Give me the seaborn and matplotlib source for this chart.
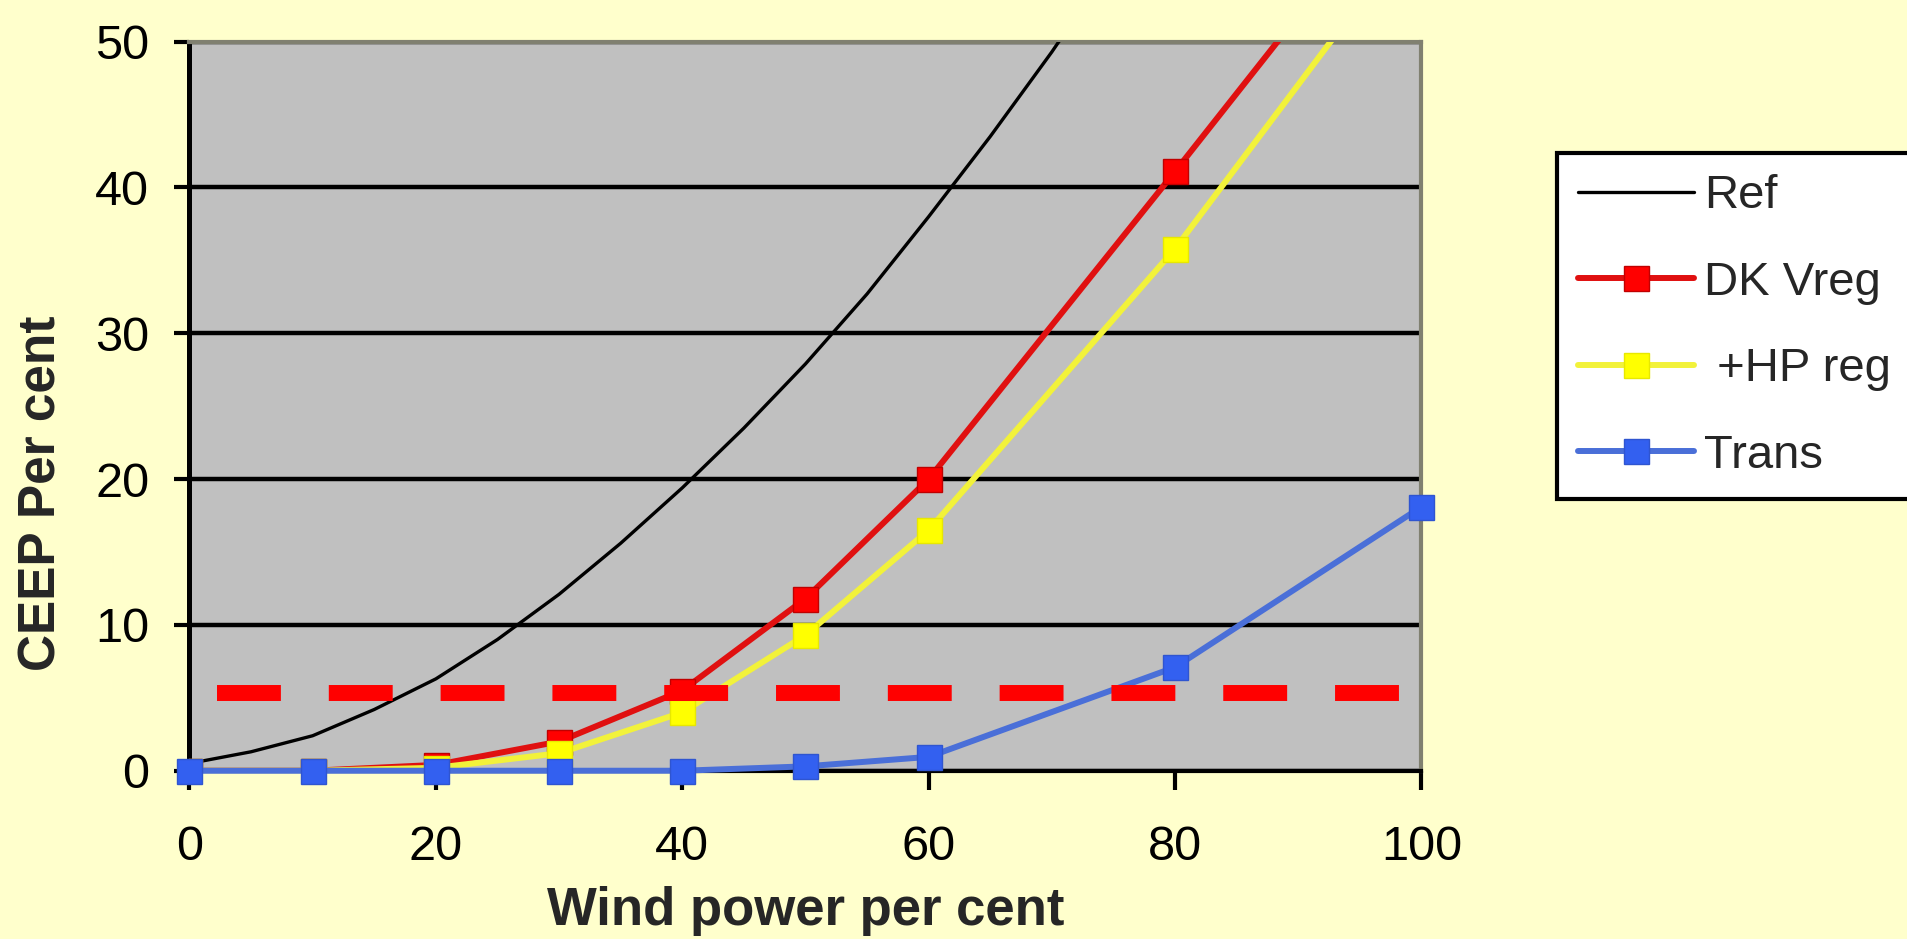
import matplotlib
matplotlib.use("Agg")
import matplotlib.pyplot as plt
import seaborn as sns

# wind power share (per cent) and the resulting CEEP (per cent)
wind_ref = [0, 5, 10, 15, 20, 25, 30, 35, 40, 45, 50, 55, 60, 65, 70, 75]
ceep_ref = [0.5, 1.3, 2.4, 4.2, 6.3, 9.0, 12.1, 15.6, 19.4, 23.5, 27.9, 32.7, 38.0, 43.5, 49.3, 55.5]

wind_pts = [0, 10, 20, 30, 40, 50, 60, 80, 100]
ceep_dk_vreg = [0, 0, 0.4, 2.0, 5.5, 11.8, 20.0, 41.1, 62.5]
ceep_hp_reg = [0, 0, 0.2, 1.2, 4.0, 9.3, 16.5, 35.8, 58.3]
ceep_trans = [0, 0, 0, 0, 0, 0.3, 0.95, 7.1, 18.1]

# red dashed limit line
ceep_limit = 5.3
limit_span = [2.2, 98.3]

x_ticks = [0, 20, 40, 60, 80, 100]
y_ticks = [0, 10, 20, 30, 40, 50]

sns.set_style("ticks")
plt.rcParams['font.family'] = ['Liberation Sans', 'DejaVu Sans']

fig = plt.figure(figsize=(19.08, 9.39), dpi=100, facecolor='#FFFFCC')
ax = fig.add_axes([0.0993, 0.1792, 0.6457, 0.7764])
ax.set_facecolor('#C0C0C0')

sns.lineplot(x=wind_ref, y=ceep_ref, ax=ax, color='black', linewidth=2.4,
             label='Ref', zorder=3)
sns.lineplot(x=wind_pts, y=ceep_dk_vreg, ax=ax, color='#E01010', linewidth=4.3,
             marker='s', markersize=18, markerfacecolor='#FF0000',
             markeredgecolor='#C00000', markeredgewidth=1, label='DK Vreg', zorder=3)
sns.lineplot(x=wind_pts, y=ceep_hp_reg, ax=ax, color='#F2F23A', linewidth=4.3,
             marker='s', markersize=18, markerfacecolor='#FFFF00',
             markeredgecolor='#E8E800', markeredgewidth=1, label=' +HP reg', zorder=3)
sns.lineplot(x=wind_pts, y=ceep_trans, ax=ax, color='#4A6FD8', linewidth=4.3,
             marker='s', markersize=18, markerfacecolor='#3360F0',
             markeredgecolor='#2F55D0', markeredgewidth=1, label='Trans',
             zorder=4, clip_on=False)

ax.plot(limit_span, [ceep_limit, ceep_limit], color='#FF0000', linewidth=11.5,
        linestyle=(0, (4.0, 3.0)), dash_capstyle='butt', zorder=5)

ax.set_xlim(0, 100)
ax.set_ylim(0, 50)
ax.set_xticks(x_ticks)
ax.set_yticks(y_ticks)

ax.yaxis.grid(True, color='black', linewidth=3.2)
ax.xaxis.grid(False)
ax.set_axisbelow(True)

ax.spines['left'].set_color('black')
ax.spines['left'].set_linewidth(3.6)
ax.spines['bottom'].set_color('black')
ax.spines['bottom'].set_linewidth(3.0)
for s in ['top', 'right']:
    ax.spines[s].set_visible(True)
    ax.spines[s].set_color('#808070')
    ax.spines[s].set_linewidth(3.0)

ax.tick_params(axis='x', direction='out', length=14, width=3, pad=25,
               labelsize=35, colors='black')
ax.tick_params(axis='y', direction='out', length=11, width=3, pad=18,
               labelsize=35, colors='black')

ax.set_xlabel('Wind power per cent', fontsize=38, fontweight='bold')
ax.xaxis.set_label_coords(0.5, -0.158)
ax.set_ylabel('CEEP Per cent', fontsize=37, fontweight='bold')
ax.yaxis.set_label_coords(-0.100, 0.381)

leg = ax.legend(loc='upper left', bbox_to_anchor=(1557 / 1908, 1 - 153 / 939),
                bbox_transform=fig.transFigure, borderaxespad=0, fontsize=34,
                handlelength=2.46, handletextpad=0.21, labelspacing=0.9,
                borderpad=0.45, fancybox=False, framealpha=1, numpoints=1)
leg.get_frame().set_edgecolor('black')
leg.get_frame().set_linewidth(3)
leg.get_frame().set_facecolor('white')

fig.savefig('out.png', dpi=100, facecolor=fig.get_facecolor())
